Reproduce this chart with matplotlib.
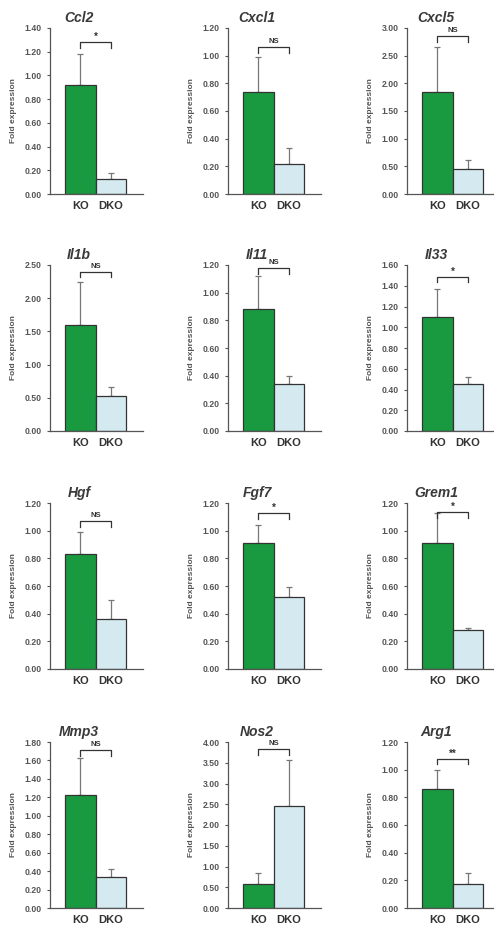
import numpy as np
import matplotlib
matplotlib.use("Agg")
import matplotlib.pyplot as plt
from matplotlib.transforms import blended_transform_factory

plt.rcParams["font.family"] = ["Liberation Sans", "DejaVu Sans"]

genes = ["Ccl2", "Cxcl1", "Cxcl5", "Il1b", "Il11", "Il33",
         "Hgf", "Fgf7", "Grem1", "Mmp3", "Nos2", "Arg1"]
groups = ["KO", "DKO"]
ko_mean = [0.92, 0.74, 1.85, 1.60, 0.88, 1.10, 0.83, 0.91, 0.91, 1.22, 0.59, 0.86]
ko_sem = [0.26, 0.25, 0.80, 0.64, 0.24, 0.27, 0.16, 0.13, 0.22, 0.41, 0.25, 0.14]
dko_mean = [0.13, 0.22, 0.45, 0.53, 0.34, 0.45, 0.36, 0.52, 0.28, 0.34, 2.46, 0.17]
dko_sem = [0.05, 0.11, 0.17, 0.14, 0.06, 0.07, 0.14, 0.07, 0.02, 0.08, 1.11, 0.08]
y_max = [1.4, 1.2, 3.0, 2.5, 1.2, 1.6, 1.2, 1.2, 1.2, 1.8, 4.0, 1.2]
y_step = [0.2, 0.2, 0.5, 0.5, 0.2, 0.2, 0.2, 0.2, 0.2, 0.2, 0.5, 0.2]
significance = ["*", "NS", "NS", "NS", "NS", "*", "NS", "*", "*", "NS", "NS", "**"]

# layout: bracket height as fraction of the y range
bracket_frac = [0.915, 0.885, 0.953, 0.96, 0.983, 0.93, 0.89, 0.94, 0.945, 0.95, 0.955, 0.90]

GREEN = "#1a9a40"
LIGHT_BLUE = "#d5e9f1"
EDGE = "#333333"
AXIS_GRAY = "#555555"
TEXT_GRAY = "#555555"

W, H = 494, 925
fig = plt.figure(figsize=(W / 100, H / 100), dpi=100)

col_left = [50, 228, 407]
row_top = [28, 265, 503, 742]
ax_w, ax_h = 93, 166

for i, gene in enumerate(genes):
    r, c = divmod(i, 3)
    left = col_left[c] / W
    bottom = 1 - (row_top[r] + ax_h) / H
    ax = fig.add_axes([left, bottom, ax_w / W, ax_h / H])

    x = np.arange(len(groups))
    means = [ko_mean[i], dko_mean[i]]
    errs = [ko_sem[i], dko_sem[i]]
    ax.bar(x, means, width=1.0, color=[GREEN, LIGHT_BLUE], edgecolor=EDGE,
           linewidth=0.9, zorder=2)
    ax.errorbar(x, means, yerr=[[0, 0], errs], fmt="none", ecolor="#777777",
                elinewidth=0.9, capsize=2, capthick=0.9, zorder=1)

    ax.set_xlim(-1.0, 2.05)
    ax.set_ylim(0, y_max[i])
    ax.set_yticks(np.arange(0, y_max[i] + 1e-9, y_step[i]))
    ax.set_yticklabels([f"{t:.2f}" for t in ax.get_yticks()])
    ax.set_xticks(x)
    ax.set_xticklabels(groups)

    for side in ("top", "right"):
        ax.spines[side].set_visible(False)
    for side in ("left", "bottom"):
        ax.spines[side].set_color(AXIS_GRAY)
        ax.spines[side].set_linewidth(0.9)

    ax.tick_params(axis="y", length=2, width=0.8, color=AXIS_GRAY, pad=4,
                   labelsize=6.2, labelcolor=TEXT_GRAY)
    ax.tick_params(axis="x", length=0, pad=5, labelsize=8, labelcolor="#333333")
    for lab in ax.get_yticklabels() + ax.get_xticklabels():
        lab.set_fontweight("bold")

    ax.set_ylabel("Fold expression", fontsize=6, fontweight="bold", color=TEXT_GRAY)
    ax.yaxis.set_label_coords(-33 / ax_w, 0.5)

    trans = blended_transform_factory(ax.transData, ax.transAxes)
    ax.text(-0.05, 1.06, gene, transform=trans, ha="center", va="center",
            fontsize=10, fontweight="bold", fontstyle="italic", color="#3a3a3a")

    yb = bracket_frac[i] * y_max[i]
    drop = 0.035 * y_max[i]
    ax.plot([0, 0, 1, 1], [yb - drop, yb, yb, yb - drop], color="#333333",
            linewidth=0.9, clip_on=False)
    star = significance[i] != "NS"
    ax.text(0.5, yb + (0.0 if star else 0.012 * y_max[i]), significance[i],
            ha="center", va="bottom", fontsize=7 if star else 5.5,
            fontweight="bold", color="#333333", clip_on=False)

fig.savefig("out.png", dpi=100)
